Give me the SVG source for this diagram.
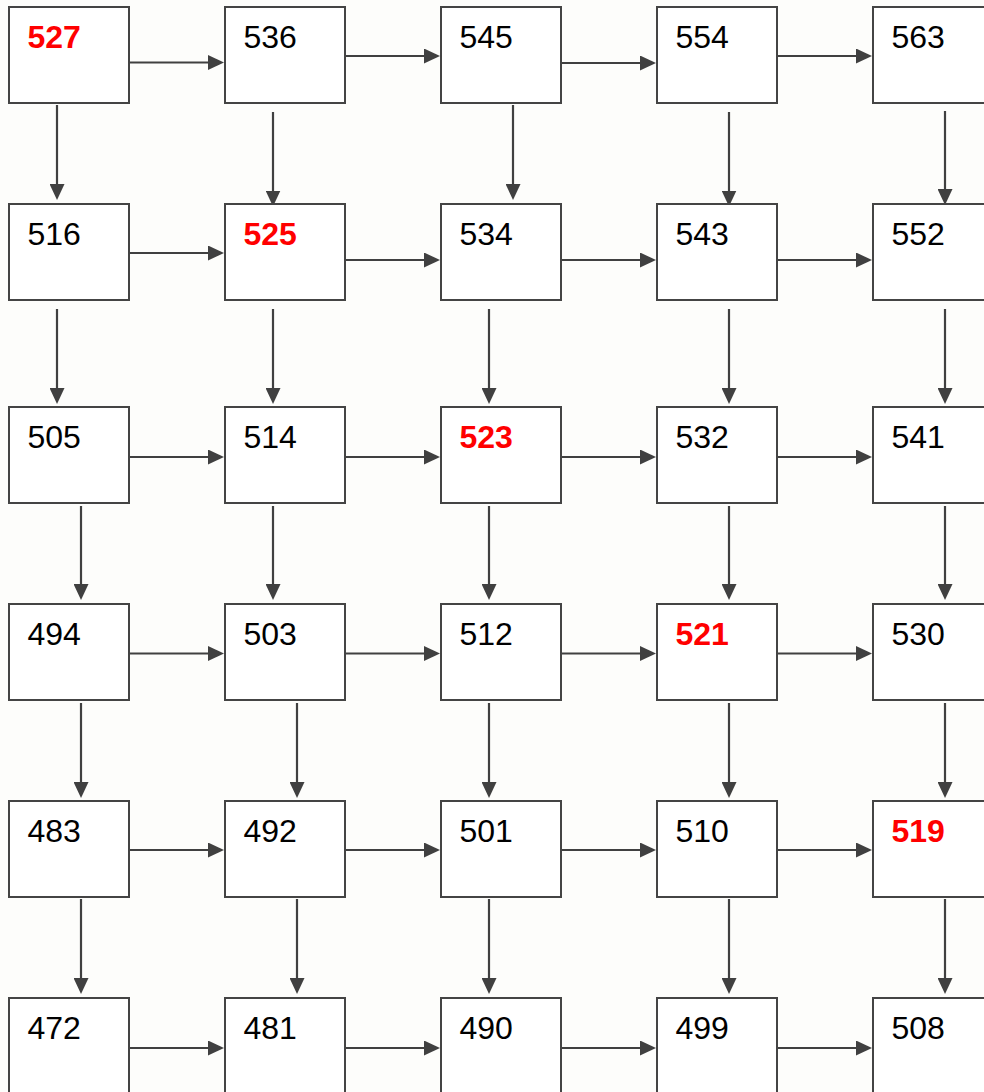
<svg xmlns="http://www.w3.org/2000/svg" width="984" height="1092" viewBox="0 0 984 1092">
<style>
.bg{fill:#fdfdfb}
.box{fill:#ffffff;stroke:#444444;stroke-width:2}
.t{font-family:"Liberation Sans",Arial,sans-serif;font-size:32px;fill:#000000}
.h{font-weight:bold;fill:#ff0000}
.c{stroke:#404040;stroke-width:2.2;fill:none;marker-end:url(#ah)}
</style>
<defs>
<marker id="ah" viewBox="0 0 16 15" refX="12" refY="7.5" markerWidth="16" markerHeight="15" markerUnits="userSpaceOnUse" orient="auto">
<path d="M0,0 L16,7.5 L0,15 z" fill="#404040"/>
</marker>
</defs>
<rect class="bg" x="0" y="0" width="984" height="1092"/>
<g id="connectors">
<line class="c" x1="129" y1="62.5" x2="220" y2="62.5"/>
<line class="c" x1="345" y1="56" x2="436" y2="56"/>
<line class="c" x1="561" y1="63" x2="652" y2="63"/>
<line class="c" x1="777" y1="56" x2="868" y2="56"/>
<line class="c" x1="129" y1="253" x2="220" y2="253"/>
<line class="c" x1="345" y1="260" x2="436" y2="260"/>
<line class="c" x1="561" y1="260" x2="652" y2="260"/>
<line class="c" x1="777" y1="260" x2="868" y2="260"/>
<line class="c" x1="129" y1="457" x2="220" y2="457"/>
<line class="c" x1="345" y1="457" x2="436" y2="457"/>
<line class="c" x1="561" y1="457" x2="652" y2="457"/>
<line class="c" x1="777" y1="457" x2="868" y2="457"/>
<line class="c" x1="129" y1="653.5" x2="220" y2="653.5"/>
<line class="c" x1="345" y1="653.5" x2="436" y2="653.5"/>
<line class="c" x1="561" y1="653.5" x2="652" y2="653.5"/>
<line class="c" x1="777" y1="653.5" x2="868" y2="653.5"/>
<line class="c" x1="129" y1="850" x2="220" y2="850"/>
<line class="c" x1="345" y1="850" x2="436" y2="850"/>
<line class="c" x1="561" y1="850" x2="652" y2="850"/>
<line class="c" x1="777" y1="850" x2="868" y2="850"/>
<line class="c" x1="129" y1="1048" x2="220" y2="1048"/>
<line class="c" x1="345" y1="1048" x2="436" y2="1048"/>
<line class="c" x1="561" y1="1048" x2="652" y2="1048"/>
<line class="c" x1="777" y1="1048" x2="868" y2="1048"/>
<line class="c" x1="57" y1="105" x2="57" y2="196"/>
<line class="c" x1="273" y1="112" x2="273" y2="202.5"/>
<line class="c" x1="513" y1="105" x2="513" y2="196"/>
<line class="c" x1="729" y1="112" x2="729" y2="202.5"/>
<line class="c" x1="945" y1="111" x2="945" y2="201"/>
<line class="c" x1="57" y1="309" x2="57" y2="400"/>
<line class="c" x1="273" y1="309" x2="273" y2="400"/>
<line class="c" x1="489" y1="309" x2="489" y2="400"/>
<line class="c" x1="729" y1="309" x2="729" y2="400"/>
<line class="c" x1="945" y1="309" x2="945" y2="400"/>
<line class="c" x1="81" y1="506" x2="81" y2="596"/>
<line class="c" x1="273" y1="506" x2="273" y2="596"/>
<line class="c" x1="489" y1="506" x2="489" y2="596"/>
<line class="c" x1="729" y1="506" x2="729" y2="596"/>
<line class="c" x1="945" y1="506" x2="945" y2="596"/>
<line class="c" x1="81" y1="703" x2="81" y2="794"/>
<line class="c" x1="297" y1="703" x2="297" y2="794"/>
<line class="c" x1="489" y1="703" x2="489" y2="794"/>
<line class="c" x1="729" y1="703" x2="729" y2="794"/>
<line class="c" x1="945" y1="703" x2="945" y2="794"/>
<line class="c" x1="81" y1="899" x2="81" y2="990"/>
<line class="c" x1="297" y1="899" x2="297" y2="990"/>
<line class="c" x1="489" y1="899" x2="489" y2="990"/>
<line class="c" x1="729" y1="899" x2="729" y2="990"/>
<line class="c" x1="945" y1="899" x2="945" y2="990"/>
</g>
<g id="n527"><rect class="box" x="9" y="7" width="120" height="96"/><text class="t h" x="27.5" y="48">527</text></g>
<g id="n536"><rect class="box" x="225" y="7" width="120" height="96"/><text class="t" x="243.5" y="48">536</text></g>
<g id="n545"><rect class="box" x="441" y="7" width="120" height="96"/><text class="t" x="459.5" y="48">545</text></g>
<g id="n554"><rect class="box" x="657" y="7" width="120" height="96"/><text class="t" x="675.5" y="48">554</text></g>
<g id="n563"><rect class="box" x="873" y="7" width="120" height="96"/><text class="t" x="891.5" y="48">563</text></g>
<g id="n516"><rect class="box" x="9" y="204" width="120" height="96"/><text class="t" x="27.5" y="245">516</text></g>
<g id="n525"><rect class="box" x="225" y="204" width="120" height="96"/><text class="t h" x="243.5" y="245">525</text></g>
<g id="n534"><rect class="box" x="441" y="204" width="120" height="96"/><text class="t" x="459.5" y="245">534</text></g>
<g id="n543"><rect class="box" x="657" y="204" width="120" height="96"/><text class="t" x="675.5" y="245">543</text></g>
<g id="n552"><rect class="box" x="873" y="204" width="120" height="96"/><text class="t" x="891.5" y="245">552</text></g>
<g id="n505"><rect class="box" x="9" y="407" width="120" height="96"/><text class="t" x="27.5" y="448">505</text></g>
<g id="n514"><rect class="box" x="225" y="407" width="120" height="96"/><text class="t" x="243.5" y="448">514</text></g>
<g id="n523"><rect class="box" x="441" y="407" width="120" height="96"/><text class="t h" x="459.5" y="448">523</text></g>
<g id="n532"><rect class="box" x="657" y="407" width="120" height="96"/><text class="t" x="675.5" y="448">532</text></g>
<g id="n541"><rect class="box" x="873" y="407" width="120" height="96"/><text class="t" x="891.5" y="448">541</text></g>
<g id="n494"><rect class="box" x="9" y="604" width="120" height="96"/><text class="t" x="27.5" y="645">494</text></g>
<g id="n503"><rect class="box" x="225" y="604" width="120" height="96"/><text class="t" x="243.5" y="645">503</text></g>
<g id="n512"><rect class="box" x="441" y="604" width="120" height="96"/><text class="t" x="459.5" y="645">512</text></g>
<g id="n521"><rect class="box" x="657" y="604" width="120" height="96"/><text class="t h" x="675.5" y="645">521</text></g>
<g id="n530"><rect class="box" x="873" y="604" width="120" height="96"/><text class="t" x="891.5" y="645">530</text></g>
<g id="n483"><rect class="box" x="9" y="801" width="120" height="96"/><text class="t" x="27.5" y="842">483</text></g>
<g id="n492"><rect class="box" x="225" y="801" width="120" height="96"/><text class="t" x="243.5" y="842">492</text></g>
<g id="n501"><rect class="box" x="441" y="801" width="120" height="96"/><text class="t" x="459.5" y="842">501</text></g>
<g id="n510"><rect class="box" x="657" y="801" width="120" height="96"/><text class="t" x="675.5" y="842">510</text></g>
<g id="n519"><rect class="box" x="873" y="801" width="120" height="96"/><text class="t h" x="891.5" y="842">519</text></g>
<g id="n472"><rect class="box" x="9" y="998" width="120" height="96"/><text class="t" x="27.5" y="1039">472</text></g>
<g id="n481"><rect class="box" x="225" y="998" width="120" height="96"/><text class="t" x="243.5" y="1039">481</text></g>
<g id="n490"><rect class="box" x="441" y="998" width="120" height="96"/><text class="t" x="459.5" y="1039">490</text></g>
<g id="n499"><rect class="box" x="657" y="998" width="120" height="96"/><text class="t" x="675.5" y="1039">499</text></g>
<g id="n508"><rect class="box" x="873" y="998" width="120" height="96"/><text class="t" x="891.5" y="1039">508</text></g>
</svg>
